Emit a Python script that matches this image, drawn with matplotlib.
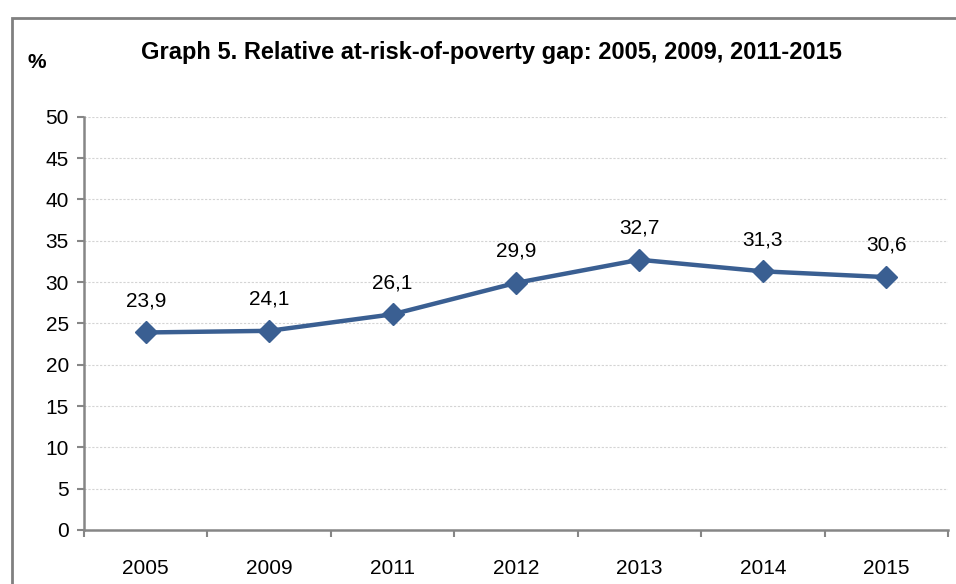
import matplotlib.pyplot as plt
from matplotlib.patches import Rectangle
import numpy as np

# data
years = ['2005', '2009', '2011', '2012', '2013', '2014', '2015']
gap = [23.9, 24.1, 26.1, 29.9, 32.7, 31.3, 30.6]

plt.rcParams['font.family'] = ['Liberation Sans', 'DejaVu Sans']

fig = plt.figure(figsize=(9.56, 5.84), dpi=100)
ax = fig.add_axes([0.0879, 0.0925, 0.9037, 0.7075])

# outer frame (open on the right and bottom like the crop)
fig.add_artist(Rectangle((11.5 / 956, -0.05), 1.2, 1.05 - 17.5 / 584, transform=fig.transFigure,
                         fill=False, edgecolor='#808080', linewidth=2))

x = np.arange(len(years))
line_color = '#3A5F92'
ax.plot(x, gap, color=line_color, linewidth=3.2, marker='D', markersize=11,
        markerfacecolor=line_color, markeredgecolor=line_color, zorder=3)

for xi, v in zip(x, gap):
    ax.annotate(f"{v:.1f}".replace('.', ','), (xi, v), textcoords='offset points',
                xytext=(0, 16), ha='center', va='bottom', fontsize=15)

ax.set_xlim(-0.5, len(years) - 0.5)
ax.set_ylim(0, 50)
ax.set_yticks(np.arange(0, 51, 5))
ax.set_xticks(x)
ax.set_xticklabels(years)
ax.set_xticks(np.arange(-0.5, len(years), 1), minor=True)

ax.tick_params(axis='x', which='major', length=0, pad=21, labelsize=15)
ax.tick_params(axis='x', which='minor', length=5, width=1.5, color='#868686', direction='out')
ax.tick_params(axis='y', length=5, width=1.5, color='#868686', labelsize=15, pad=6)

ax.grid(axis='y', linestyle=(0, (2, 1.5)), color='#D4D4D4', linewidth=0.8, zorder=0)
for s in ['top', 'right']:
    ax.spines[s].set_visible(False)
for s in ['left', 'bottom']:
    ax.spines[s].set_color('#868686')
    ax.spines[s].set_linewidth(1.8)

fig.text(491 / 956, 1 - 52 / 584, 'Graph 5. Relative at-risk-of-poverty gap: 2005, 2009, 2011-2015',
         ha='center', va='center', fontsize=17, fontweight='bold')
fig.text(37 / 956, 1 - 63 / 584, '%', ha='center', va='center', fontsize=15, fontweight='bold')

fig.savefig('out.png', dpi=100)
